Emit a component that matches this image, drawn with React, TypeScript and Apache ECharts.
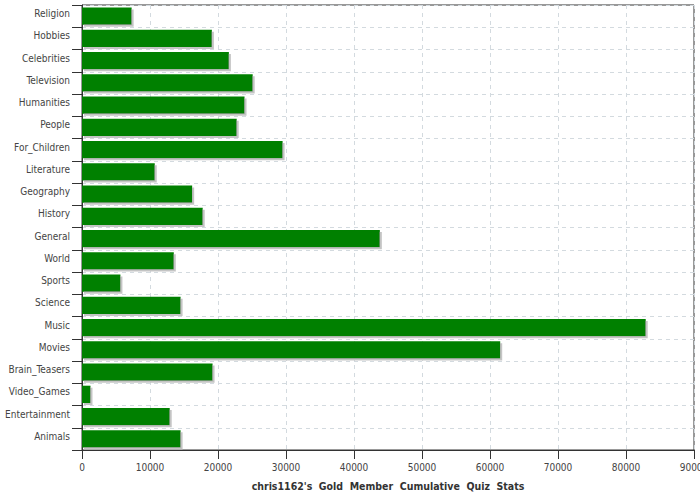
import React, { useEffect, useRef } from "react";
import * as echarts from "echarts";

const categories = [
  "Religion", "Hobbies", "Celebrities", "Television", "Humanities", "People",
  "For_Children", "Literature", "Geography", "History", "General", "World",
  "Sports", "Science", "Music", "Movies", "Brain_Teasers", "Video_Games",
  "Entertainment", "Animals",
];
const values = [
  7300, 19100, 21600, 25100, 23900, 22750,
  29500, 10700, 16200, 17750, 43800, 13500,
  5650, 14500, 82900, 61500, 19200, 1250,
  12900, 14500,
];
const axisTitle = "chris1162's  Gold  Member  Cumulative  Quiz  Stats";

const FONT = "DejaVu Sans Condensed, DejaVu Sans, sans-serif";

export default function App() {
  const ref = useRef<HTMLDivElement>(null);
  useEffect(() => {
    const chart = echarts.init(ref.current!, null, { renderer: "svg" });
    chart.setOption({
      animation: false,
      backgroundColor: "#ffffff",
      grid: {
        left: 82, right: 6, top: 5, bottom: 50,
        outerBoundsMode: "none",
        containLabel: false,
        show: true, borderColor: "#333333", borderWidth: 1, backgroundColor: "transparent",
      },
      xAxis: {
        type: "value",
        min: 0, max: 90000, interval: 10000,
        name: axisTitle,
        nameLocation: "middle",
        nameGap: 30,
        nameTextStyle: { fontFamily: FONT, fontSize: 10.5, fontWeight: "bold", color: "#333333" },
        axisLine: { show: true, lineStyle: { color: "#333333" } },
        axisTick: { show: true, length: 9, lineStyle: { color: "#333333" } },
        axisLabel: {
          fontFamily: FONT, fontSize: 10, color: "#444444", margin: 12,
          formatter: (v: number) => String(v),
        },
        splitLine: { show: true, lineStyle: { color: "#d3dadf", type: [4, 4] } },
      },
      yAxis: {
        type: "category",
        data: categories,
        inverse: true,
        axisLine: { show: true, lineStyle: { color: "#333333" } },
        axisTick: { show: true, length: 10, lineStyle: { color: "#333333" } },
        axisLabel: {
          fontFamily: FONT, fontSize: 10, color: "#444444", margin: 12,
          verticalAlign: "bottom", lineHeight: 5,
        },
        splitLine: { show: true, lineStyle: { color: "#d3dadf", type: [4, 4] } },
      },
      series: [
        {
          type: "bar",
          data: values,
          barCategoryGap: "22%",
          itemStyle: {
            color: "#008000",
            shadowColor: "#c4c4c4",
            shadowBlur: 0,
            shadowOffsetX: 2,
            shadowOffsetY: 2,
          },
        },
      ],
    });
    return () => chart.dispose();
  }, []);
  return (
    <div
      ref={ref}
      style={{ position: "absolute", left: 0, top: 0, width: 700, height: 500 }}
    />
  );
}
